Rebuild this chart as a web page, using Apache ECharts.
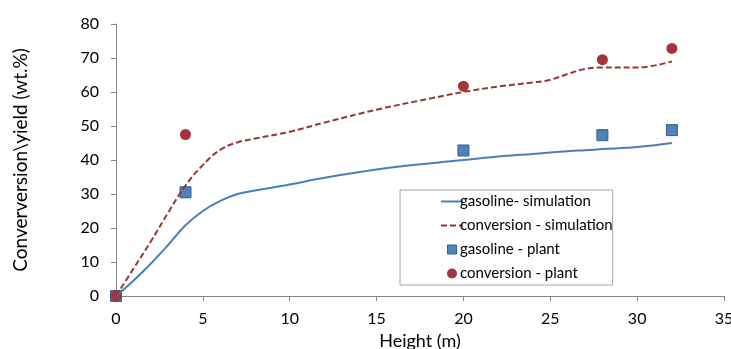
<!DOCTYPE html>
<html><head><meta charset="utf-8">
<script src="https://cdn.jsdelivr.net/npm/echarts@6/dist/echarts.min.js"></script>
<style>html,body{margin:0;padding:0;background:#fff}#c{width:731px;height:349px}</style>
</head><body><div id="c"></div>
<script>
const simX = [0,1,2,3,4,5,6,7,8,10,12,15,18,20,22,24,25,26,27,28,30,32];
const gasolineSim = [0,4.5,9.5,15,20.8,25,28,30,31,32.8,34.8,37.2,39,40,41,41.8,42.2,42.6,42.9,43.2,43.8,45];
const conversionSim = [0,8,16,24.5,32.5,38.5,43,45.2,46.3,48.3,51,54.8,58,60,61.6,62.8,63.6,65.3,66.8,67.2,67.2,69];
const plantX = [0,4,20,28,32];
const gasolinePlant = [0,30.5,42.8,47.3,48.8];
const conversionPlant = [0,47.5,61.7,69.5,72.8];
const xTicks = [0,5,10,15,20,25,30,35];
const yTicks = [0,10,20,30,40,50,60,70,80];

const zip = (xs, ys) => xs.map((x, i) => [x, ys[i]]);
const font = 'Lato, "Open Sans", sans-serif';
const axisGray = '#868686';
const hide = {color: 'rgba(0,0,0,0)', borderWidth: 0, opacity: 0};
const chart = echarts.init(document.getElementById('c'));
chart.setOption({
  animation: false,
  grid: {left: 116, right: 7, top: 24, bottom: 53, containLabel: false, outerBoundsMode: 'none'},
  xAxis: {
    type: 'value', min: xTicks[0], max: xTicks[xTicks.length-1], interval: 5,
    name: 'Height (m)', nameLocation: 'middle', nameGap: 35,
    nameTextStyle: {fontFamily: font, fontSize: 18, color: '#000'},
    axisLine: {lineStyle: {color: axisGray}},
    axisTick: {show: true, length: 5, lineStyle: {color: axisGray}},
    axisLabel: {fontFamily: font, fontSize: 16, color: '#000', margin: 15},
    splitLine: {show: false}
  },
  yAxis: {
    type: 'value', min: yTicks[0], max: yTicks[yTicks.length-1], interval: 10,
    name: 'Converversion\\yield (wt.%)', nameLocation: 'middle', nameGap: 86,
    nameTextStyle: {fontFamily: font, fontSize: 19, color: '#000'},
    axisLine: {show: true, lineStyle: {color: axisGray}},
    axisTick: {show: true, length: 5, lineStyle: {color: axisGray}},
    axisLabel: {fontFamily: font, fontSize: 16, color: '#000', margin: 17},
    splitLine: {show: false}
  },
  legend: {
    orient: 'vertical', left: 400, top: 190,
    padding: [4, 0, 4, 40],
    borderColor: '#a6a6a6', borderWidth: 1,
    itemWidth: 22, itemHeight: 14, itemGap: 9,
    textStyle: {fontFamily: font, fontSize: 15, color: '#000', padding: [0,0,0,-8]},
    data: [
      {name: 'gasoline- simulation', itemStyle: hide},
      {name: 'conversion - simulation', itemStyle: hide},
      {name: 'gasoline - plant', icon: 'path://M0,0M14,14M2.5,2.5H11.5V11.5H2.5Z', itemStyle: {borderColor: '#385d8a', borderWidth: 1}},
      {name: 'conversion - plant', icon: 'path://M0,0M14,14M12,7A5,5,0,1,1,2,7A5,5,0,1,1,12,7Z'}
    ]
  },
  series: [
    {name: 'gasoline- simulation', type: 'line', smooth: 0.4, showSymbol: false, symbol: 'none',
     data: zip(simX, gasolineSim), lineStyle: {color: '#4a7ebb', width: 2}, itemStyle: {color: '#4a7ebb'}},
    {name: 'conversion - simulation', type: 'line', smooth: 0.4, showSymbol: false, symbol: 'none',
     data: zip(simX, conversionSim), lineStyle: {color: '#953735', width: 2, type: [6, 3]}, itemStyle: {color: '#953735'}},
    {name: 'gasoline - plant', type: 'scatter', symbol: 'rect', symbolSize: 11, clip: false,
     data: zip(plantX, gasolinePlant), itemStyle: {color: '#4f81bd', borderColor: '#385d8a', borderWidth: 1, opacity: 1}},
    {name: 'conversion - plant', type: 'scatter', symbol: 'circle', symbolSize: 11, clip: false,
     data: zip(plantX, conversionPlant), itemStyle: {color: '#a0353a', opacity: 1}}
  ]
});
</script></body></html>
